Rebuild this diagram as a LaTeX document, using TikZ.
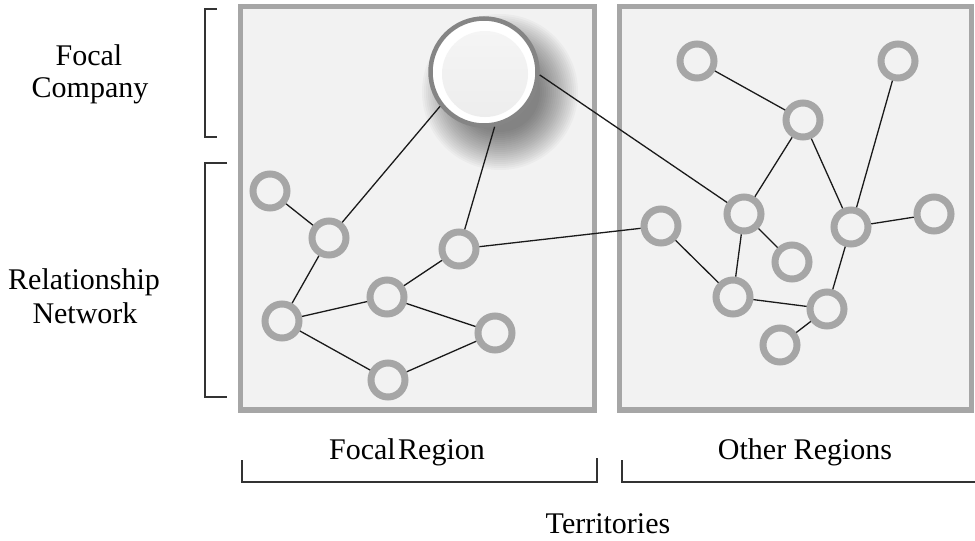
\documentclass[tikz,border=0pt]{standalone}
\usepackage{fontspec}
\setmainfont{Liberation Serif}
\definecolor{ringgray}{HTML}{A6A6A6}
\definecolor{boxbg}{HTML}{F2F2F2}
\definecolor{focalring}{HTML}{858585}
\definecolor{linkcol}{HTML}{1A1A1A}
\definecolor{bracecol}{HTML}{333333}
\tikzset{
  region/.style={draw=ringgray, line width=5.5pt, fill=boxbg},
  actor/.style={circle, draw=ringgray, line width=7pt, fill=boxbg, minimum size=34pt, inner sep=0pt},
  focal/.style={circle, draw=focalring, line width=4.5pt, fill=white, minimum size=107pt, inner sep=0pt},
  link/.style={draw=linkcol, line width=1.3pt},
  bracketline/.style={draw=bracecol, line width=1.4pt},
  lbl/.style={font=\fontsize{30pt}{32pt}\selectfont, inner sep=0pt, anchor=base}
}
\begin{document}
\begin{tikzpicture}[x=1pt,y=-1pt]
\useasboundingbox (0,0) rectangle (975,541);
% regions
\path[region] (240.5,6.5) rectangle (594.5,410);
\path[region] (619.5,6.5) rectangle (971.5,410);
% shadow of focal company
\foreach \r in {40,42,...,78} \fill[black,opacity=0.028] (500,92) circle (\r pt);
% focal company
\node[focal] (big) at (484,72) {};
\shade[top color=white!96!black, bottom color=white!93!black] (485,74) circle (43pt);
% focal region actors
\node[actor] (n1) at (270,191) {};
\node[actor] (n2) at (329,238) {};
\node[actor] (n3) at (459,249) {};
\node[actor] (n4) at (387,297) {};
\node[actor] (n5) at (282,321) {};
\node[actor] (n6) at (495,333) {};
\node[actor] (n7) at (388,380) {};
% other regions actors
\node[actor] (r1) at (697,61) {};
\node[actor] (r2) at (898,61) {};
\node[actor] (r3) at (803,120) {};
\node[actor] (r4) at (744,214) {};
\node[actor] (r5) at (661,226) {};
\node[actor] (r6) at (851,227) {};
\node[actor] (r7) at (934,214) {};
\node[actor] (r8) at (792,262) {};
\node[actor] (r9) at (733,297) {};
\node[actor] (r10) at (827,309) {};
\node[actor] (r11) at (780,345) {};
% links
\draw[link] (big.-142) -- (n2);
\draw[link] (big.-79) -- (n3);
\draw[link] (big.-3) -- (r4);
\draw[link] (n1) -- (n2);
\draw[link] (n2) -- (n5);
\draw[link] (n5) -- (n4);
\draw[link] (n5) -- (n7);
\draw[link] (n4) -- (n3);
\draw[link] (n4) -- (n6);
\draw[link] (n7) -- (n6);
\draw[link] (n3) -- (r5);
\draw[link] (r1) -- (r3);
\draw[link] (r3) -- (r4);
\draw[link] (r3) -- (r6);
\draw[link] (r2) -- (r6);
\draw[link] (r6) -- (r7);
\draw[link] (r6) -- (r10);
\draw[link] (r4) -- (r8);
\draw[link] (r4) -- (r9);
\draw[link] (r5) -- (r9);
\draw[link] (r9) -- (r10);
\draw[link] (r10) -- (r11);
% brackets
\draw[bracketline] (217,9) -- (205,9) -- (205,137) -- (217,137);
\draw[bracketline] (227,163) -- (205,163) -- (205,397) -- (227,397);
\draw[bracketline] (242,460) -- (242,482) -- (597,482) -- (597,458);
\draw[bracketline] (622,460) -- (622,482) -- (976,482);
% labels
\node[lbl] (t1) at (89,65) {Focal};
\node[lbl] (t2) at (90,97) {Company};
\node[lbl] (t3) at (84,289) {Relationship};
\node[lbl] (t4) at (85,323) {Network};
\node[lbl] (t5) at (407,459) {Focal\hspace{0.08em}Region};
\node[lbl] (t6) at (805,459) {Other Regions};
\node[lbl] (t7) at (608,533) {Territories};
\end{tikzpicture}
\end{document}
